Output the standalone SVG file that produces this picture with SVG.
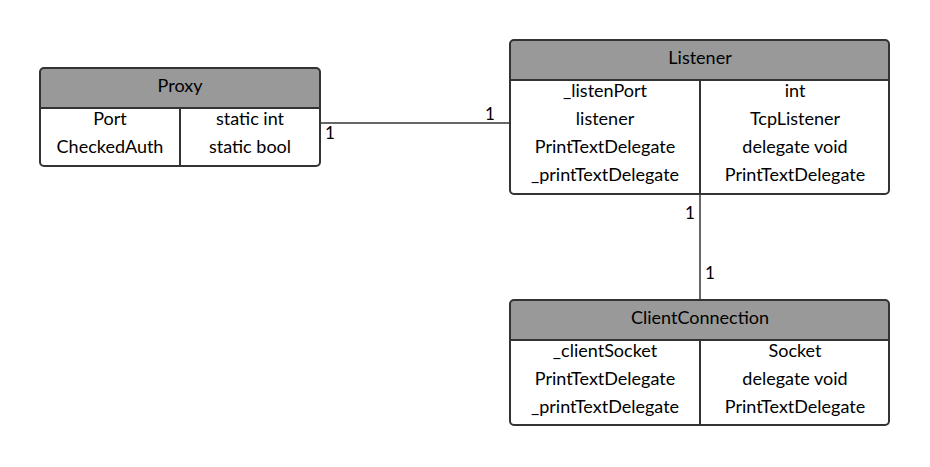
<svg xmlns="http://www.w3.org/2000/svg" width="930" height="467" viewBox="0 0 930 467">
<style>
.box{fill:none;stroke:#333333;stroke-width:2}
.hdr{fill:#999999}
.ln{stroke:#333333;stroke-width:2;fill:none}
.con{stroke:#333333;stroke-width:1.5;fill:none}
text{font-family:Lato,"Liberation Sans",sans-serif;font-size:18px;fill:#000000;dominant-baseline:central;text-anchor:middle}
.lbl{text-anchor:start;font-size:17px}
</style>
<rect width="930" height="467" fill="#ffffff"/>
<g id="connectors">
<line class="con" x1="320" y1="123" x2="510" y2="123"/>
<text class="lbl" x="325" y="132">1</text>
<text class="lbl" x="485" y="113">1</text>
<line class="con" x1="700" y1="194" x2="700" y2="300"/>
<text class="lbl" x="685" y="212">1</text>
<text class="lbl" x="705" y="272">1</text>
</g>
<g id="proxy">
<path class="hdr" d="M40,108 V72 a4,4 0 0 1 4,-4 H316 a4,4 0 0 1 4,4 V108 Z"/>
<rect class="box" x="40" y="68" width="280" height="98" rx="4"/>
<line class="ln" x1="40" y1="108" x2="320" y2="108"/>
<line class="ln" x1="180" y1="108" x2="180" y2="166"/>
<text x="180" y="85">Proxy</text>
<text x="110" y="118">Port</text>
<text x="250" y="118">static int</text>
<text x="110" y="146">CheckedAuth</text>
<text x="250" y="146">static bool</text>
</g>
<g id="listener">
<path class="hdr" d="M510,80 V44 a4,4 0 0 1 4,-4 H885 a4,4 0 0 1 4,4 V80 Z"/>
<rect class="box" x="510" y="40" width="379" height="154" rx="4"/>
<line class="ln" x1="510" y1="80" x2="889" y2="80"/>
<line class="ln" x1="700" y1="80" x2="700" y2="194"/>
<text x="700" y="57">Listener</text>
<text x="605" y="90">_listenPort</text>
<text x="795" y="90">int</text>
<text x="605" y="118">listener</text>
<text x="795" y="118">TcpListener</text>
<text x="605" y="146">PrintTextDelegate</text>
<text x="795" y="146">delegate void</text>
<text x="605" y="174">_printTextDelegate</text>
<text x="795" y="174">PrintTextDelegate</text>
</g>
<g id="clientconnection">
<path class="hdr" d="M510,340 V304 a4,4 0 0 1 4,-4 H885 a4,4 0 0 1 4,4 V340 Z"/>
<rect class="box" x="510" y="300" width="379" height="125" rx="4"/>
<line class="ln" x1="510" y1="340" x2="889" y2="340"/>
<line class="ln" x1="700" y1="340" x2="700" y2="425"/>
<text x="700" y="317">ClientConnection</text>
<text x="605" y="350">_clientSocket</text>
<text x="795" y="350">Socket</text>
<text x="605" y="378">PrintTextDelegate</text>
<text x="795" y="378">delegate void</text>
<text x="605" y="406">_printTextDelegate</text>
<text x="795" y="406">PrintTextDelegate</text>
</g>
</svg>
